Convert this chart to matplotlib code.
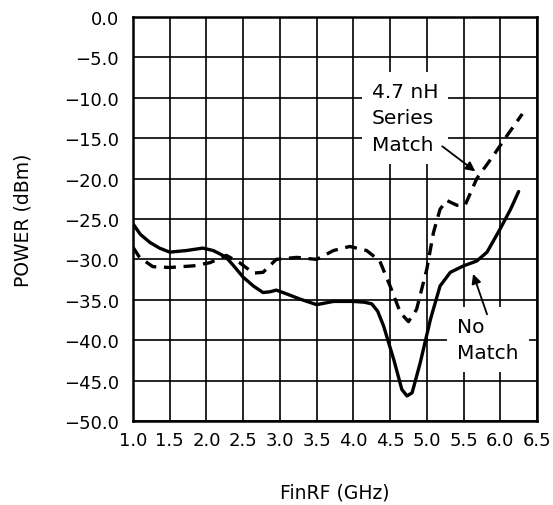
import matplotlib
matplotlib.use("Agg")
import matplotlib.pyplot as plt

# Data
freq_nomatch = [1.0, 1.1, 1.23, 1.36, 1.5, 1.73, 1.95, 2.09, 2.18, 2.27, 2.38, 2.5, 2.64,
                2.77, 2.87, 2.95, 3.1, 3.27, 3.5, 3.73, 4.0, 4.15, 4.25, 4.33, 4.41,
                4.55, 4.66, 4.73, 4.8, 4.91, 5.05, 5.18, 5.32, 5.5, 5.68, 5.82, 6.0,
                6.14, 6.25]
power_nomatch = [-25.6, -26.9, -27.9, -28.6, -29.1, -28.9, -28.6, -28.9, -29.3, -29.75,
                 -30.9, -32.2, -33.3, -34.1, -34.0, -33.8, -34.3, -34.9, -35.6, -35.2,
                 -35.2, -35.3, -35.5, -36.4, -38.2, -42.4, -46.1, -46.9, -46.5, -42.8,
                 -37.4, -33.3, -31.6, -30.8, -30.2, -29.1, -26.2, -23.8, -21.6]

freq_series = [1.0, 1.09, 1.27, 1.5, 1.82, 2.05, 2.27, 2.45, 2.64, 2.77, 2.95, 3.23, 3.5,
               3.73, 3.95, 4.18, 4.36, 4.5, 4.64, 4.75, 4.86, 5.0, 5.09, 5.18, 5.27,
               5.41, 5.52, 5.68, 5.91, 6.09, 6.3]
power_series = [-28.5, -29.75, -30.9, -31.0, -30.8, -30.4, -29.5, -30.4, -31.7, -31.6,
                -30.0, -29.75, -30.0, -28.9, -28.4, -28.9, -30.2, -33.3, -36.6, -37.7,
                -36.2, -31.2, -26.7, -23.8, -22.7, -23.3, -23.3, -20.0, -17.1, -14.7, -12.0]

x_ticks = [1.0, 1.5, 2.0, 2.5, 3.0, 3.5, 4.0, 4.5, 5.0, 5.5, 6.0, 6.5]
y_ticks = [0.0, -5.0, -10.0, -15.0, -20.0, -25.0, -30.0, -35.0, -40.0, -45.0, -50.0]

label_series = "4.7 nH\nSeries\nMatch"
label_nomatch = "No\nMatch"

fig = plt.figure(figsize=(5.53, 5.06), dpi=100)
ax = fig.add_axes([133/553, 1-422/506, 404/553, 404/506])

ax.plot(freq_nomatch, power_nomatch, color="black", lw=2.4, solid_joinstyle="round",
        solid_capstyle="round", zorder=3)
ax.plot(freq_series, power_series, color="black", lw=2.4, dashes=(3.6, 2.3), zorder=3)

ax.set_xlim(1.0, 6.5)
ax.set_ylim(-50.0, 0.0)
ax.set_xticks(x_ticks)
ax.set_yticks(y_ticks)
ax.set_xticklabels([f"{v:.1f}" for v in x_ticks])
ax.set_yticklabels([f"{v:.1f}".replace("-", "\u2212") if v != 0 else "0.0" for v in y_ticks])
ax.tick_params(length=0, labelsize=13)
ax.tick_params(axis="x", pad=7)
ax.tick_params(axis="y", pad=10)
ax.grid(True, color="black", lw=1.2, zorder=1)
for s in ax.spines.values():
    s.set_linewidth(1.8)

ax.set_xlabel("FinRF (GHz)", fontsize=13.5, labelpad=24)
ax.set_ylabel("POWER (dBm)", fontsize=13.5, labelpad=23)

ax.text(4.25, -12.5, label_series, fontsize=14.5, ha="left", va="center",
        linespacing=1.5, zorder=4,
        bbox=dict(facecolor="white", edgecolor="none", boxstyle="square,pad=0.5"))
ax.text(5.41, -39.9, label_nomatch, fontsize=14.5, ha="left", va="center",
        linespacing=1.5, zorder=4,
        bbox=dict(facecolor="white", edgecolor="none", boxstyle="square,pad=0.5"))

ax.annotate("", xy=(5.66, -19.1), xytext=(5.21, -16.0),
            arrowprops=dict(arrowstyle="-|>", color="black", lw=1.3,
                            mutation_scale=14, shrinkA=0, shrinkB=0), zorder=5)
ax.annotate("", xy=(5.63, -31.8), xytext=(5.82, -36.8),
            arrowprops=dict(arrowstyle="-|>", color="black", lw=1.3,
                            mutation_scale=14, shrinkA=0, shrinkB=0), zorder=5)

fig.savefig("out.png", dpi=100)
